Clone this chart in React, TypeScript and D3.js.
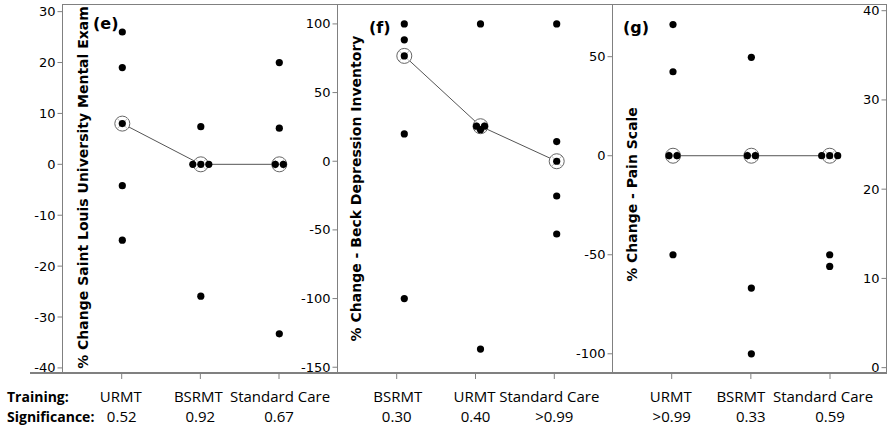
import React from "react";
import * as d3 from "d3";

const W = 889;
const H = 432;

// ---------- data ----------
const trainingE = ["URMT", "BSRMT", "Standard Care"];
const significanceE = ["0.52", "0.92", "0.67"];
const eURMT = [26, 19, 8, -4.2, -14.9];
const eBSRMT = [7.4, 0, 0, 0, -25.9];
const eStandard = [20, 7.1, 0, 0, -33.3];
const ticksE = [-40, -30, -20, -10, 0, 10, 20, 30];
const domainE = [-41.0, 31.5];

const trainingF = ["BSRMT", "URMT", "Standard Care"];
const significanceF = ["0.30", "0.40", ">0.99"];
const fBSRMT = [100, 88.4, 76.7, 19.9, -100];
const fURMT = [100, 25.5, 25.5, 23, -136.8];
const fStandard = [100, 14.3, 0, -25.3, -53];
const ticksF = [-150, -100, -50, 0, 50, 100];
const domainF = [-154.2, 114.5];

const trainingG = ["URMT", "BSRMT", "Standard Care"];
const significanceG = [">0.99", "0.33", "0.59"];
const gURMT = [66.2, 42.4, 0, 0, -50];
const gBSRMT = [49.7, 0, 0, -66.8, -100];
const gStandard = [0, 0, 0, -50, -55.9];
const ticksG = [-100, -50, 0, 50];
const domainG = [-109.7, 76.6];

const ticksRight = [0, 10, 20, 30, 40];
const domainRight = [-0.6, 40.75];

// ---------- layout ----------
const TOP = 4;
const BOTTOM = 373;
const AXIS_COLOR = "#808080";
const TICK_FONT = "'DejaVu Sans', Verdana, sans-serif";
const LABEL_FONT = "'Open Sans', Calibri, sans-serif";

const panels = [
  {
    tag: "(e)",
    title: "% Change Saint Louis University Mental Exam",
    cats: trainingE,
    sig: significanceE,
    groups: [eURMT, eBSRMT, eStandard],
    ticks: ticksE,
    domain: domainE,
    axisX: 62.5,
    dotRange: [122.3, 279.3],
    tickRange: [121.7, 279],
    labelShift: [-1, -2, 1],
    titleX: 82.5,
    titleY: 187.5,
    tagX: 93,
    tagY: 29,
  },
  {
    tag: "(f)",
    title: "% Change - Beck Depression Inventory",
    cats: trainingF,
    sig: significanceF,
    groups: [fBSRMT, fURMT, fStandard],
    ticks: ticksF,
    domain: domainF,
    axisX: 337.5,
    dotRange: [404.3, 556.7],
    tickRange: [396.7, 554.3],
    labelShift: [1, -1, -5],
    titleX: 356,
    titleY: 188.5,
    tagX: 369,
    tagY: 33,
  },
  {
    tag: "(g)",
    title: "% Change - Pain Scale",
    cats: trainingG,
    sig: significanceG,
    groups: [gURMT, gBSRMT, gStandard],
    ticks: ticksG,
    domain: domainG,
    axisX: 612.5,
    dotRange: [673, 829.7],
    tickRange: [671.7, 830],
    labelShift: [-1, -10, -7],
    titleX: 631.5,
    titleY: 194.5,
    tagX: 623,
    tagY: 33,
  },
];

const RIGHT_AXIS_X = 886.5;

function jitter(values: number[], spacing: number) {
  const counts = new Map<number, number>();
  values.forEach((v) => counts.set(v, (counts.get(v) || 0) + 1));
  const seen = new Map<number, number>();
  return values.map((v) => {
    const n = counts.get(v) || 1;
    const k = seen.get(v) || 0;
    seen.set(v, k + 1);
    return (k - (n - 1) / 2) * spacing;
  });
}

function Panel({ p }: { p: (typeof panels)[number] }) {
  const y = d3.scaleLinear().domain(p.domain).range([BOTTOM, TOP]);
  const xDot = d3.scalePoint<string>().domain(p.cats).range(p.dotRange as [number, number]);
  const xTick = d3.scalePoint<string>().domain(p.cats).range(p.tickRange as [number, number]);
  const medians = p.groups.map((g) => d3.median(g) as number);
  const line = d3
    .line<number>()
    .x((_, i) => xDot(p.cats[i]) as number)
    .y((m) => y(m));

  return (
    <g>
      {/* y axis */}
      <line x1={p.axisX} x2={p.axisX} y1={TOP} y2={BOTTOM} stroke={AXIS_COLOR} strokeWidth={1} />
      {p.ticks.map((t) => (
        <g key={t}>
          <line x1={p.axisX - 5} x2={p.axisX} y1={y(t)} y2={y(t)} stroke={AXIS_COLOR} />
          <text
            x={p.axisX - 7}
            y={y(t)}
            textAnchor="end"
            dominantBaseline="central"
            fontFamily={TICK_FONT}
            fontSize={13}
            fill="#000"
          >
            {t}
          </text>
        </g>
      ))}
      {/* x ticks */}
      {p.cats.map((c) => (
        <line
          key={c}
          x1={xTick(c)}
          x2={xTick(c)}
          y1={BOTTOM}
          y2={BOTTOM + 6}
          stroke={AXIS_COLOR}
        />
      ))}
      {/* y title */}
      <text
        transform={`translate(${p.titleX},${p.titleY}) rotate(-90)`}
        textAnchor="middle"
        dominantBaseline="central"
        fontFamily={TICK_FONT}
        fontWeight="bold"
        fontSize={14}
        fill="#000"
      >
        {p.title}
      </text>
      {/* panel tag */}
      <text x={p.tagX} y={p.tagY} fontFamily={TICK_FONT} fontWeight="bold" fontSize={16} fill="#000">
        {p.tag}
      </text>
      {/* median line */}
      <path d={line(medians) || ""} fill="none" stroke="#555" strokeWidth={1} />
      {/* median markers */}
      {medians.map((m, i) => {
        const cx = xDot(p.cats[i]) as number;
        const cy = y(m);
        const r = 7.5;
        const d = r * 0.7;
        return (
          <g key={i}>
            <circle cx={cx} cy={cy} r={r} fill="#fff" stroke="#666" strokeWidth={1} />
            <line x1={cx - d} x2={cx + d} y1={cy - d} y2={cy + d} stroke="#bbb" />
            <line x1={cx - d} x2={cx + d} y1={cy + d} y2={cy - d} stroke="#bbb" />
          </g>
        );
      })}
      {/* points */}
      {p.groups.map((g, i) => {
        const offs = jitter(g, 8);
        const cx = xDot(p.cats[i]) as number;
        return g.map((v, j) => (
          <circle key={`${i}-${j}`} cx={cx + offs[j]} cy={y(v)} r={3.6} fill="#000" />
        ));
      })}
      {/* category labels */}
      {p.cats.map((c, i) => (
        <text
          key={c}
          x={(xTick(c) as number) + p.labelShift[i]}
          y={401.5}
          textAnchor="middle"
          fontFamily={LABEL_FONT}
          fontSize={15}
          fill="#000"
        >
          {c}
        </text>
      ))}
      {p.sig.map((s, i) => (
        <text
          key={i}
          x={xTick(p.cats[i]) as number}
          y={421.5}
          textAnchor="middle"
          fontFamily={LABEL_FONT}
          fontSize={15}
          fill="#000"
        >
          {s}
        </text>
      ))}
    </g>
  );
}

export default function App() {
  const yR = d3.scaleLinear().domain(domainRight).range([BOTTOM, TOP]);
  return (
    <div style={{ position: "absolute", left: 0, top: 0 }}>
      <svg width={W} height={H} style={{ display: "block", background: "#fff" }}>
        <rect x={0} y={0} width={W} height={H} fill="#fff" />
        {/* top border */}
        <line x1={62.5} x2={RIGHT_AXIS_X} y1={TOP + 0.5} y2={TOP + 0.5} stroke={AXIS_COLOR} />
        {panels.map((p) => (
          <Panel key={p.tag} p={p} />
        ))}
        {/* right axis */}
        <line x1={RIGHT_AXIS_X} x2={RIGHT_AXIS_X} y1={TOP} y2={BOTTOM} stroke={AXIS_COLOR} />
        {ticksRight.map((t) => (
          <g key={t}>
            <line x1={RIGHT_AXIS_X - 5} x2={RIGHT_AXIS_X} y1={yR(t)} y2={yR(t)} stroke={AXIS_COLOR} />
            <text
              x={RIGHT_AXIS_X - 7}
              y={yR(t)}
              textAnchor="end"
              dominantBaseline="central"
              fontFamily={TICK_FONT}
              fontSize={13}
              fill="#000"
            >
              {t}
            </text>
          </g>
        ))}
        {/* bottom axis */}
        <line x1={30} x2={RIGHT_AXIS_X + 0.5} y1={BOTTOM} y2={BOTTOM} stroke={AXIS_COLOR} strokeWidth={2} />
        {/* row headers */}
        <text x={7} y={401.5} fontFamily={LABEL_FONT} fontWeight="bold" fontSize={14} fill="#000">
          Training:
        </text>
        <text x={7} y={421.5} fontFamily={LABEL_FONT} fontWeight="bold" fontSize={14} fill="#000">
          Significance:
        </text>
      </svg>
    </div>
  );
}
